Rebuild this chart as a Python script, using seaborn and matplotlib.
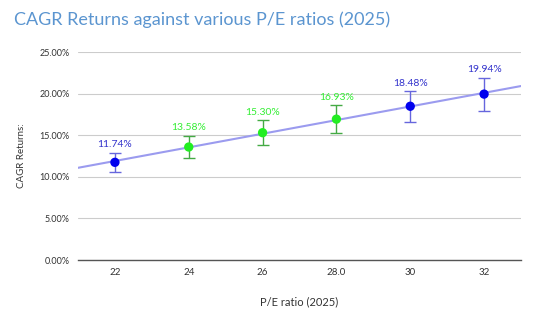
import matplotlib
matplotlib.use("Agg")
import matplotlib.pyplot as plt
import seaborn as sns
import numpy as np
import pandas as pd

pe_labels = ["22", "24", "26", "28.0", "30", "32"]
cagr = [11.74, 13.58, 15.30, 16.93, 18.48, 19.94]
point_colors = ["#0000ee", "#22ee22", "#22ee22", "#22ee22", "#0000ee", "#0000ee"]
label_colors = ["#3333cc", "#33ee33", "#33ee33", "#33ee33", "#3333cc", "#3333cc"]
err_colors = ["#6666dd", "#44aa44", "#44aa44", "#44aa44", "#6666dd", "#6666dd"]
err_frac = 0.10

sns.set_theme(style="white")
plt.rcParams['font.family'] = ['Lato', 'DejaVu Sans']

fig = plt.figure(figsize=(5.54, 3.23), dpi=100)
ax = fig.add_axes([78/554, 1-260/323, (521-78)/554, (260-52)/323])

x = np.arange(len(cagr))
df = pd.DataFrame({"x": x, "y": cagr})
ax.set_xlim(-0.5, len(cagr) - 0.5)
ax.set_ylim(0, 25)

sns.regplot(data=df, x="x", y="y", ax=ax, scatter=False, ci=None, truncate=False,
            line_kws=dict(color="#9b9bef", lw=1.5, zorder=2))

for i, v in enumerate(cagr):
    ax.errorbar(i, v, yerr=v*err_frac, fmt="none", ecolor=err_colors[i],
                elinewidth=1, capsize=4, capthick=1, zorder=3)
    ax.text(i, v*(1+err_frac) + 0.4, f"{v:.2f}%", color=label_colors[i],
            ha="center", va="bottom", fontsize=7.5)

sns.scatterplot(data=df, x="x", y="y", ax=ax, hue="x",
                palette=point_colors, s=45, legend=False, zorder=4, edgecolor="none")

ax.set_xlim(-0.5, len(cagr) - 0.5)
ax.set_ylim(0, 25)
ax.set_yticks([0, 5, 10, 15, 20, 25])
ax.set_yticklabels([f"{t:.2f}%" for t in [0, 5, 10, 15, 20, 25]], fontsize=6.5, color="#333333")
ax.set_xticks(x)
ax.set_xticklabels(pe_labels, fontsize=7, color="#333333")
ax.grid(axis="y", color="#cccccc", lw=0.8)
ax.set_axisbelow(True)
for s in ["top", "right", "left"]:
    ax.spines[s].set_visible(False)
ax.spines["bottom"].set_color("#555555")
ax.spines["bottom"].set_linewidth(1)
ax.tick_params(length=0, pad=6)

ax.set_xlabel("P/E ratio (2025)", fontsize=8, color="#333333", labelpad=14)
ax.set_ylabel("CAGR Returns:", fontsize=7, color="#333333", labelpad=10)

fig.text(14/554, 1-20/323, "CAGR Returns against various P/E ratios (2025)",
         fontsize=13, color="#5b95d0", va="center", ha="left")

fig.savefig("out.png", dpi=100, facecolor="white")
